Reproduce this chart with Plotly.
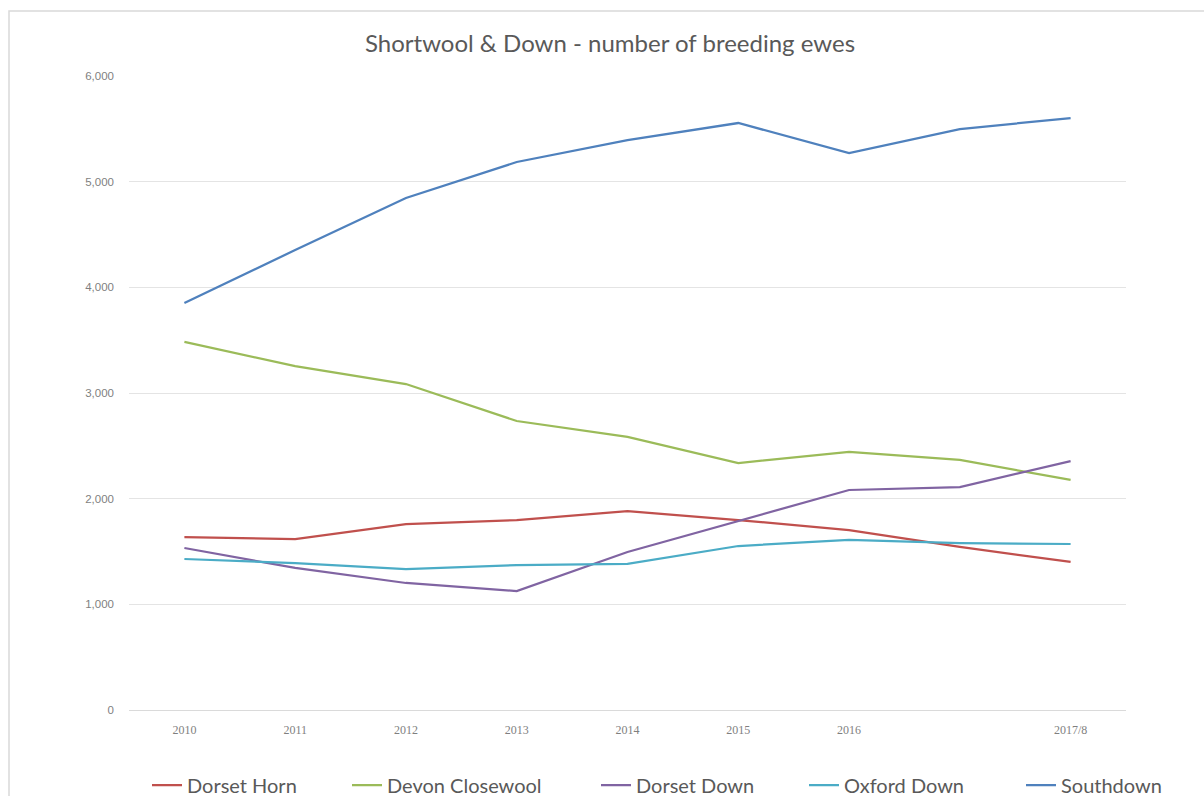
import plotly.graph_objects as go

# Breeding ewe counts per breed, 2010 to 2017/8
tick_labels = ["2010", "2011", "2012", "2013", "2014", "2015", "2016", "", "2017/8"]

dorset_horn = [1637, 1618, 1760, 1798, 1883, 1798, 1703, 1543, 1401]
devon_closewool = [3483, 3255, 3085, 2735, 2584, 2337, 2442, 2366, 2177]
dorset_down = [1533, 1344, 1202, 1126, 1495, 1789, 2082, 2110, 2356]
oxford_down = [1429, 1391, 1334, 1372, 1382, 1552, 1609, 1580, 1571]
southdown = [3852, 4353, 4845, 5186, 5394, 5555, 5271, 5498, 5602]

series_names = ["Dorset Horn", "Devon Closewool", "Dorset Down", "Oxford Down", "Southdown"]
series_values = [dorset_horn, devon_closewool, dorset_down, oxford_down, southdown]
series_colors = ["#C0504D", "#9BBB59", "#8064A2", "#4BACC6", "#4F81BD"]

W, H = 1204, 796
L, R, T, B = 129, 1126, 76, 710  # plot area in pixels

def px_x(p):
    return (p - L) / (R - L)

def px_y(p):
    return (B - p) / (B - T)

x_idx = list(range(len(tick_labels)))

fig = go.Figure()
legend_keys = ["legend", "legend2", "legend3", "legend4", "legend5"]
legend_starts = [147, 347, 596, 804, 1021]

for name, vals, color, key in zip(series_names, series_values, series_colors, legend_keys):
    fig.add_trace(go.Scatter(
        x=x_idx, y=vals, name=name, mode="lines",
        line=dict(color=color, width=2.25),
        legend=key,
    ))

legend_font = dict(family="Lato, 'Open Sans', sans-serif", size=20, color="#595959")
layout_legends = {}
for key, xs in zip(legend_keys, legend_starts):
    layout_legends[key] = dict(
        x=px_x(xs), xanchor="left",
        y=px_y(785), yanchor="middle",
        orientation="h", font=legend_font,
        bgcolor="rgba(0,0,0,0)", borderwidth=0,
        itemclick=False,
    )

fig.update_layout(
    width=W, height=H,
    margin=dict(l=L, r=W - R, t=T, b=H - B, pad=0, autoexpand=False),
    paper_bgcolor="white", plot_bgcolor="white",
    title=dict(
        text="Shortwool &amp; Down - number of breeding ewes",
        x=610 / W, xref="container", xanchor="center",
        y=1 - 44 / H, yref="container", yanchor="middle",
        font=dict(family="Lato, 'Open Sans', sans-serif", size=24, color="#595959"),
    ),
    showlegend=True,
    xaxis=dict(
        range=[-0.5, len(tick_labels) - 0.5],
        tickmode="array", tickvals=x_idx, ticktext=tick_labels,
        showgrid=False, zeroline=False, showline=False, ticks="",
        ticklabelstandoff=11,
        tickfont=dict(family="'Liberation Serif', serif", size=12, color="#7F7F7F"),
        fixedrange=True,
    ),
    yaxis=dict(
        range=[0, 6000], tickvals=[0, 1000, 2000, 3000, 4000, 5000, 6000],
        tickformat=",d",
        showgrid=True, gridcolor="#E4E4E4", gridwidth=1,
        zeroline=True, zerolinecolor="#DADADA", zerolinewidth=1,
        showline=False, ticks="", ticklabelstandoff=14,
        tickfont=dict(family="'Liberation Sans', sans-serif", size=11.5, color="#7F7F7F"),
        fixedrange=True,
    ),
    shapes=[dict(
        type="rect", xref="paper", yref="paper",
        x0=px_x(9), x1=px_x(1215), y0=px_y(820), y1=px_y(11),
        line=dict(color="#D9D9D9", width=1.5), fillcolor="rgba(0,0,0,0)",
        layer="below",
    )],
    **layout_legends,
)

fig.write_html("out.html")
